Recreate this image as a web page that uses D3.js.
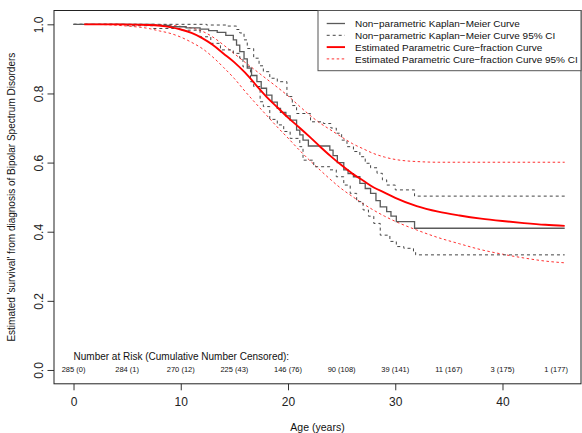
<!DOCTYPE html>
<html>
<head>
<meta charset="utf-8">
<script src="https://cdn.jsdelivr.net/npm/d3@7"></script>
<style>
  body { margin: 0; background: #fff; }
  svg { display: block; font-family: "Liberation Sans", Arial, sans-serif; }
</style>
</head>
<body>
<div id="chart"></div>
<script>
// Kaplan-Meier estimate (step function)
const kmTime = [0, 7.5, 9, 10.5, 11.8, 12.6, 13.4, 14.2, 14.9, 15.2, 15.5, 15.9, 16.2, 16.6, 17.1, 17.5, 18.0, 18.5, 19.0, 19.3, 19.8, 20.2, 20.8, 21.1, 21.4, 21.9, 23.9, 24.2, 24.6, 25.2, 25.6, 26.1, 26.7, 27.2, 27.7, 28.2, 28.6, 29.2, 29.6, 30.1, 31.8, 45.8];
const kmSurv = [1.0, 0.997, 0.993, 0.99, 0.986, 0.982, 0.977, 0.968, 0.955, 0.94, 0.921, 0.9, 0.873, 0.852, 0.834, 0.815, 0.795, 0.775, 0.757, 0.745, 0.735, 0.723, 0.694, 0.68, 0.665, 0.648, 0.636, 0.62, 0.6, 0.579, 0.568, 0.559, 0.54, 0.525, 0.511, 0.49, 0.472, 0.458, 0.445, 0.429, 0.41, 0.41];

// KM 95% CI
const kmUpTime = [0, 12.4, 14.3, 15.2, 15.5, 15.9, 16.2, 16.8, 17.3, 17.7, 18.3, 19.0, 19.9, 20.4, 20.8, 22.1, 23.3, 24.0, 24.5, 25.0, 25.5, 26.1, 26.7, 27.2, 27.7, 28.3, 28.8, 29.2, 30.0, 31.8, 45.8];
const kmUpSurv = [1.0, 0.998, 0.995, 0.985, 0.975, 0.955, 0.93, 0.902, 0.88, 0.863, 0.844, 0.834, 0.791, 0.765, 0.742, 0.718, 0.713, 0.7, 0.685, 0.665, 0.646, 0.632, 0.617, 0.598, 0.585, 0.569, 0.55, 0.535, 0.521, 0.503, 0.503];
const kmLoTime = [0, 5, 7.4, 10.0, 11.8, 12.8, 13.7, 14.9, 15.5, 15.8, 16.5, 16.8, 17.4, 17.7, 18.3, 19.0, 19.6, 20.2, 21.1, 21.4, 22.4, 23.9, 24.5, 25.2, 25.8, 26.4, 27.0, 27.5, 28.0, 28.6, 29.5, 30.1, 30.8, 31.7, 31.9, 45.8];
const kmLoSurv = [1.0, 0.996, 0.988, 0.983, 0.964, 0.945, 0.926, 0.916, 0.902, 0.877, 0.834, 0.82, 0.776, 0.762, 0.725, 0.709, 0.69, 0.67, 0.646, 0.607, 0.588, 0.579, 0.559, 0.535, 0.511, 0.487, 0.463, 0.445, 0.424, 0.39, 0.372, 0.357, 0.352, 0.342, 0.333, 0.333];

// parametric cure-fraction model + CI
const cureTime = [1, 4, 7, 9, 10, 11, 12, 13, 14, 15, 16, 17, 18, 19, 20, 21, 22, 23, 24, 25, 26, 27, 28, 29, 30, 32, 34, 36, 38, 40, 42, 44, 45.8];
const cureSurv = [1.0, 1.0, 0.998, 0.992, 0.985, 0.975, 0.96, 0.94, 0.915, 0.89, 0.86, 0.825, 0.79, 0.76, 0.73, 0.703, 0.675, 0.646, 0.618, 0.592, 0.568, 0.548, 0.528, 0.513, 0.498, 0.474, 0.458, 0.447, 0.438, 0.431, 0.425, 0.42, 0.417];
const cureUpTime = [1, 5, 8, 10, 12, 13, 14, 15, 16, 17, 18, 19, 20, 21, 22, 23, 24, 25, 26, 27, 28, 29, 30, 31, 32, 34, 36, 40, 45.8];
const cureUpSurv = [1.0, 1.0, 0.999, 0.994, 0.98, 0.963, 0.94, 0.915, 0.89, 0.866, 0.842, 0.818, 0.793, 0.765, 0.738, 0.714, 0.694, 0.674, 0.655, 0.64, 0.626, 0.616, 0.609, 0.605, 0.603, 0.601, 0.601, 0.601, 0.601];
const cureLoTime = [1, 3, 5, 7, 8, 9, 10, 11, 12, 13, 14, 15, 16, 17, 18, 19, 20, 21, 22, 23, 24, 25, 26, 27, 28, 29, 30, 32, 34, 36, 38, 40, 42, 44, 45.8];
const cureLoSurv = [1.0, 0.999, 0.995, 0.988, 0.981, 0.974, 0.963, 0.948, 0.93, 0.905, 0.875, 0.843, 0.806, 0.771, 0.737, 0.703, 0.671, 0.638, 0.607, 0.578, 0.55, 0.524, 0.502, 0.481, 0.462, 0.445, 0.43, 0.405, 0.383, 0.365, 0.348, 0.335, 0.324, 0.315, 0.31];

// risk table
const riskAges = [0, 5, 10, 15, 20, 25, 30, 35, 40, 45];
const atRisk = [285, 284, 270, 225, 146, 90, 39, 11, 3, 1];
const censored = [0, 1, 12, 43, 76, 108, 141, 167, 175, 177];

const xTicks = [0, 10, 20, 30, 40];
const yTicks = [0, 0.2, 0.4, 0.6, 0.8, 1.0];

const legendLabels = [
  'Non\u2212parametric Kaplan\u2212Meier Curve',
  'Non\u2212parametric Kaplan\u2212Meier Curve 95% CI',
  'Estimated Parametric Cure\u2212fraction Curve',
  'Estimated Parametric Cure\u2212fraction Curve 95% CI',
];

const width = 582;
const height = 433;
const box = { left: 54, right: 581, top: 10.5, bottom: 383.8 };

const svg = d3.select('#chart')
  .append('svg')
  .attr('width', width)
  .attr('height', height);

const x = d3.scaleLinear().domain([-1.82, 47.32]).range([box.left, box.right]);
const y = d3.scaleLinear().domain([-0.04, 1.04]).range([box.bottom, box.top]);

const zip = (ts, ss) => ts.map((t, i) => ({ t, s: ss[i] }));

const stepLine = d3.line().x(d => x(d.t)).y(d => y(d.s)).curve(d3.curveStepAfter);
const smoothLine = d3.line().x(d => x(d.t)).y(d => y(d.s)).curve(d3.curveMonotoneX);

// styles for each series
const styles = {
  km: { stroke: '#5a5a5a', width: 1.3, dash: null },
  kmCI: { stroke: '#444', width: 1, dash: '3,3' },
  cure: { stroke: '#ff0000', width: 1.9, dash: null },
  cureCI: { stroke: '#ff3030', width: 1, dash: '2.5,2.5' },
};

function drawPath(d, gen, st) {
  svg.append('path')
    .datum(d)
    .attr('d', gen)
    .attr('fill', 'none')
    .attr('stroke', st.stroke)
    .attr('stroke-width', st.width)
    .attr('stroke-dasharray', st.dash);
}

// axes
const xAxis = svg.append('g')
  .attr('transform', `translate(0, ${box.bottom})`)
  .call(d3.axisBottom(x).tickValues(xTicks).tickSize(6.5).tickPadding(7).tickFormat(d3.format('d')));
xAxis.select('.domain').remove();
xAxis.selectAll('text').attr('font-size', 12).attr('fill', '#222').attr('font-family', null);
xAxis.selectAll('line').attr('stroke', '#333');

const yAxis = svg.append('g')
  .attr('transform', `translate(${box.left}, 0)`)
  .call(d3.axisLeft(y).tickValues(yTicks).tickSize(6.5).tickFormat(d3.format('.1f')));
yAxis.select('.domain').remove();
yAxis.selectAll('line').attr('stroke', '#333');
yAxis.selectAll('text')
  .attr('x', null).attr('dy', null)
  .attr('text-anchor', 'middle')
  .attr('transform', 'translate(-11.5,0) rotate(-90)')
  .attr('font-size', 12).attr('fill', '#222').attr('font-family', null);

// plot box
svg.append('rect')
  .attr('x', box.left).attr('y', box.top)
  .attr('width', box.right - box.left).attr('height', box.bottom - box.top)
  .attr('fill', 'none').attr('stroke', '#222').attr('stroke-width', 1);

// curves
drawPath(zip(cureUpTime, cureUpSurv), smoothLine, styles.cureCI);
drawPath(zip(cureLoTime, cureLoSurv), smoothLine, styles.cureCI);
drawPath(zip(kmUpTime, kmUpSurv), stepLine, styles.kmCI);
drawPath(zip(kmLoTime, kmLoSurv), stepLine, styles.kmCI);
drawPath(zip(kmTime, kmSurv), stepLine, styles.km);
drawPath(zip(cureTime, cureSurv), smoothLine, styles.cure);

// number at risk
svg.append('text')
  .attr('x', x(0)).attr('y', 359.5)
  .attr('font-size', 10).attr('fill', '#111')
  .text('Number at Risk (Cumulative Number Censored):');

svg.append('g')
  .selectAll('text')
  .data(riskAges)
  .join('text')
  .attr('x', d => x(d))
  .attr('y', 372)
  .attr('text-anchor', 'middle')
  .attr('font-size', 7.5)
  .attr('fill', '#111')
  .text((d, i) => `${atRisk[i]} (${censored[i]})`);

// axis titles
svg.append('text')
  .attr('x', (box.left + box.right) / 2).attr('y', 431)
  .attr('text-anchor', 'middle').attr('font-size', 10.5).attr('fill', '#111')
  .text('Age (years)');

svg.append('text')
  .attr('transform', `translate(15, ${(box.top + box.bottom) / 2}) rotate(-90)`)
  .attr('text-anchor', 'middle').attr('font-size', 10).attr('fill', '#111')
  .text("Estimated 'survival' from diagnosis of Bipolar Spectrum Disorders");

// legend
const legend = svg.append('g');
legend.append('rect')
  .attr('x', 318).attr('y', box.top)
  .attr('width', box.right - 318).attr('height', 70.7 - box.top)
  .attr('fill', '#fff').attr('stroke', '#555').attr('stroke-width', 1);

const legendStyles = [styles.km, styles.kmCI, styles.cure, styles.cureCI];
const legendRows = legend.selectAll('g.row')
  .data(legendLabels)
  .join('g')
  .attr('class', 'row')
  .attr('transform', (d, i) => `translate(0, ${23.5 + i * 11.8})`);

legendRows.append('line')
  .attr('x1', 326.7).attr('x2', 345)
  .attr('stroke', (d, i) => legendStyles[i].stroke)
  .attr('stroke-width', (d, i) => legendStyles[i].width)
  .attr('stroke-dasharray', (d, i) => legendStyles[i].dash);

const legendText = legendRows.append('text')
  .attr('x', 355).attr('y', 3.8)
  .attr('font-size', 10.5).attr('fill', '#111')
  .text(d => d);

// shrink legend font so the longest label fits inside the box (ends ~579px)
const longest = d3.max(legendText.nodes(), n => n.getComputedTextLength());
const fitSize = Math.min(10.5, 10.5 * 223 / longest);
legendText.attr('font-size', fitSize);
</script>
</body>
</html>
